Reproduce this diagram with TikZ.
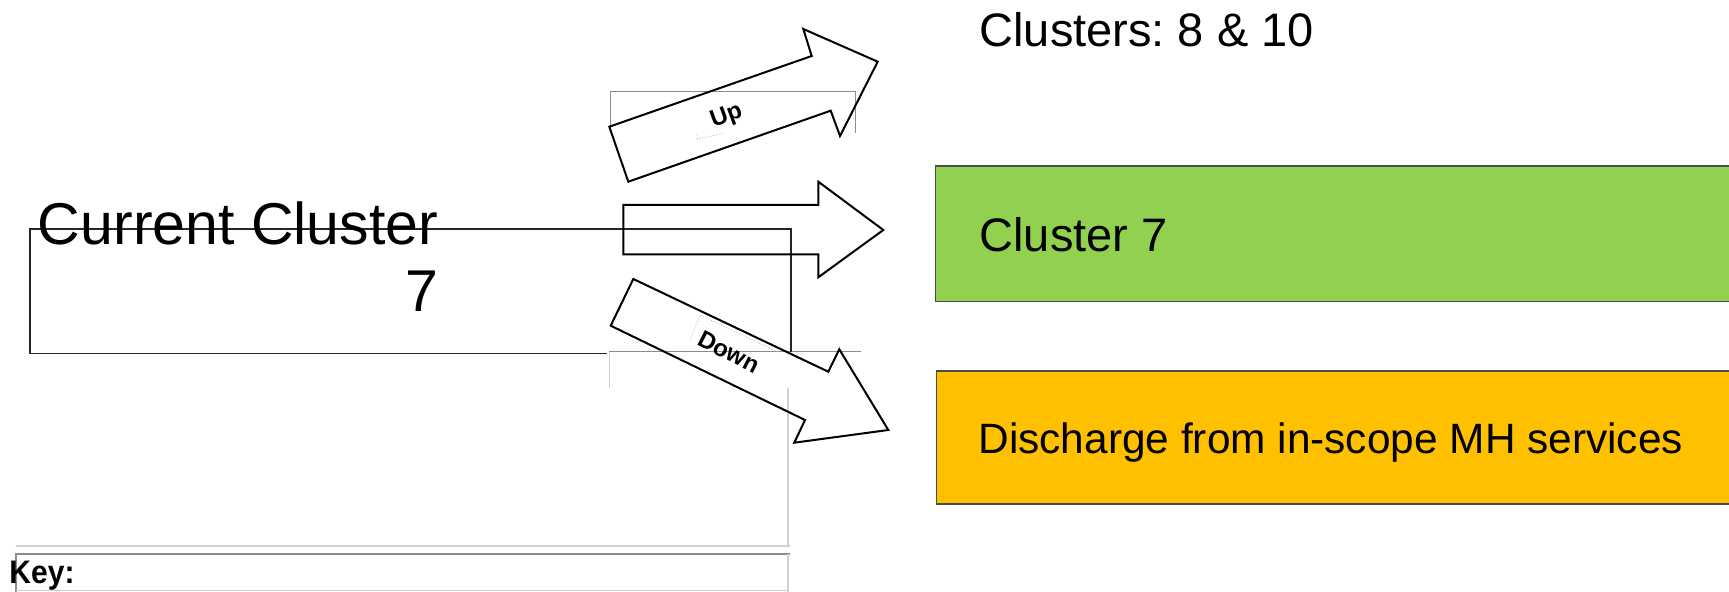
\documentclass[tikz,border=0pt]{standalone}
\usepackage{fontspec}
\setmainfont{Liberation Sans}
\definecolor{clustergreen}{HTML}{92D050}
\definecolor{dischargeamber}{HTML}{FFC000}
\frenchspacing
\begin{document}
\begin{tikzpicture}[x=0.5pt,y=-0.5pt,
  outline/.style={draw=black,line width=1pt,line join=miter},
  frameline/.style={draw=black!85,line width=0.9pt},
  band/.style={draw=black!70,line width=0.9pt},
  guide/.style={draw=black!45,line width=0.5pt},
  faint/.style={draw=black!18,line width=0.8pt},
  keyline/.style={draw=black!45,line width=1pt},
  lbl/.style={inner sep=0pt,outer sep=0pt},
  bigtxt/.style={font=\fontsize{29.5}{33}\selectfont},
  boxtxt/.style={font=\fontsize{23.5}{28}\selectfont},
  tag/.style={font=\bfseries\fontsize{12}{14}\selectfont}]
\useasboundingbox (0,0) rectangle (1729,592);
\clip (0,0) rectangle (1729,592);

% outcome bands on the right
\fill[clustergreen] (935.5,166) rectangle (1740,301.5);
\draw[band] (1740,166) -- (935.5,166) -- (935.5,301.5) -- (1740,301.5);
\fill[dischargeamber] (936.5,370.7) rectangle (1740,504);
\draw[band] (1740,370.7) -- (936.5,370.7) -- (936.5,504) -- (1740,504);

% light layout guides
\draw[guide] (610.7,128) -- (610.7,91.7) -- (855,91.7) -- (855,133);
\draw[guide] (609,352) -- (861,352);
\draw[faint,line width=0.5pt] (609,352) -- (609,388);
\draw[faint] (788,388) -- (788,546);
\draw[faint,line width=1pt] (15.7,545.7) -- (790,545.7);
\draw[keyline] (15.7,592) -- (15.7,554) -- (790,554);
\draw[faint] (788,554) -- (788,592);
\draw[faint,line width=0.5pt] (15.7,591) -- (788,591);

% frame of the current cluster
\draw[frameline] (607,353.5) -- (30.3,353.5) -- (30.3,229.3) -- (791,229.3) -- (791,352);

% block arrows
\draw[outline] (628.3,181.7) -- (609.3,126.7) -- (811.7,56) -- (803.3,29)
  -- (877.7,61.7) -- (840,136) -- (830.7,110.7) -- cycle;
\draw[outline] (623.3,205) -- (818.3,205) -- (818.3,181.7) -- (883.3,230)
  -- (818.3,277.3) -- (818.3,254.3) -- (623.3,254.3) -- cycle;
\draw[outline] (633.3,279) -- (828.3,371.7) -- (839.3,349.3) -- (888.3,430)
  -- (794.3,442.7) -- (805,420) -- (610.7,325.7) -- cycle;

% small text-box remnants on the arrows
\draw[black!30,line width=0.4pt,densely dotted] (690,340) -- (700,315) -- (778,352);
\draw[black!35,line width=0.4pt,densely dotted] (696.7,135.5) -- (697.5,139) -- (723.3,133.3);

% labels
\node[lbl,tag,rotate=20] (up) at (726.7,116.7) {Up};
\node[lbl,tag,rotate=-27] (down) at (729,352) {Down};

\node[lbl,bigtxt,anchor=base east] (cur) at (438,245) {Current Cluster};
\node[lbl,bigtxt,anchor=base east] (curnum) at (438,311.7) {7};

\node[lbl,boxtxt,anchor=base west] (up810) at (979.5,46.7) {Clusters: 8 \& 10};
\node[lbl,boxtxt,anchor=base west] (same7) at (979.5,251.7) {Cluster 7};
\node[lbl,font=\fontsize{21.2}{25}\selectfont,anchor=base west] (dis) at (978.5,453.3) {Discharge from in-scope MH services};

\node[lbl,font=\bfseries\fontsize{16.3}{19}\selectfont,anchor=base west,xscale=0.92] (key) at (9.5,583.3) {Key:};
\end{tikzpicture}
\end{document}
